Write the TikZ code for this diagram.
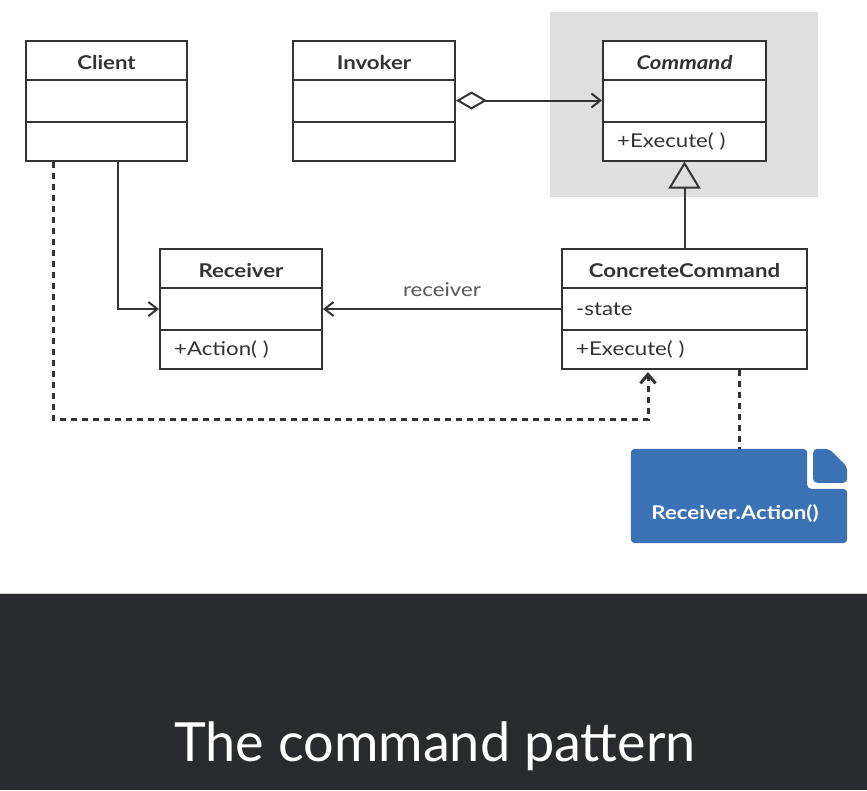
\documentclass[tikz,border=0pt]{standalone}
\usepackage{fontspec}
\setmainfont{Lato}[FakeStretch=1.17]
\newfontfamily\titlefont{Lato}
\usetikzlibrary{arrows.meta,positioning,backgrounds}

\definecolor{umlgray}{HTML}{333333}
\definecolor{labelgray}{HTML}{5A5A5A}
\definecolor{notebg}{HTML}{3B72B6}
\definecolor{barbg}{HTML}{2A2B2F}
\definecolor{shadebg}{HTML}{DFDFDF}

% class box: name, x, y, width, title, attribute, operation
\newcommand{\umlclass}[7]{%
  \node[classbox, minimum width=#4] (#1) at (#2,#3) {};
  \draw[classline] ([yshift=-40pt]#1.north west) -- ([yshift=-40pt]#1.north east);
  \draw[classline] ([yshift=40pt]#1.south west) -- ([yshift=40pt]#1.south east);
  \node[classname] (#1-name) at ([yshift=-23pt]#1.north) {#5};
  \node[member] (#1-attr) at ([xshift=15pt]#1.west) {#6};
  \node[member] (#1-op) at ([xshift=15pt,yshift=20pt]#1.south west) {#7};
}

\begin{document}
\begin{tikzpicture}[x=1pt,y=-1pt,
		classbox/.style={draw=umlgray, line width=2pt, fill=white, minimum height=120pt, inner sep=0pt},
		classline/.style={draw=umlgray, line width=2pt},
		classname/.style={text=umlgray, font=\fontsize{19}{22}\selectfont\bfseries, inner sep=0pt},
		member/.style={text=umlgray, font=\fontsize{19}{22}\selectfont, anchor=west, inner sep=0pt},
		link/.style={draw=umlgray, line width=2pt},
		dep/.style={draw=umlgray, line width=3pt, dash pattern=on 6pt off 5pt},
		barb/.style={-{Straight Barb[length=9pt,width=14pt,line width=2pt]}}
	]
	\useasboundingbox (0,0) rectangle (867,790);
	\fill[white] (0,0) rectangle (867,790);

	% grey highlight behind the abstract command
	\node[fill=shadebg, minimum width=268pt, minimum height=185pt, inner sep=0pt] (shade) at (684,104.5) {};

	\umlclass{client}{106.5}{100.5}{161pt}{Client}{}{}
	\umlclass{invoker}{374}{100.5}{162pt}{Invoker}{}{}
	\umlclass{command}{684.5}{100.5}{163pt}{\itshape Command}{}{+Execute( )}
	\umlclass{receiver}{241}{309}{162pt}{Receiver}{}{+Action( )}
	\umlclass{concrete}{684.5}{309}{245pt}{ConcreteCommand}{-state}{+Execute( )}

	% connectors
	\draw[link, {Diamond[open,length=31pt,width=18pt,line width=2pt]}-{Straight Barb[length=9pt,width=14pt,line width=2pt]}]
		(invoker.east) -- (command.west);
	\draw[link, -{Triangle[open,length=27pt,width=32pt,line width=2pt]}] (concrete.north) -- (command.south);
	\draw[link, barb] (concrete.west) -- (receiver.east)
		node[midway, above=8pt, text=labelgray, font=\fontsize{19}{22}\selectfont] (rcvlabel) {receiver};
	\draw[link, barb] ([xshift=11.5pt]client.south) |- (receiver.west);
	\coordinate (bend) at ([xshift=-36.5pt,yshift=-49pt]concrete.south);
	\draw[dep, -{Straight Barb[length=9pt,width=15pt,line width=3pt]}]
		([xshift=-53.5pt]client.south) |- (bend) -- ([xshift=-36.5pt,yshift=-2pt]concrete.south);

	% note
	\node[minimum width=216pt, minimum height=94pt, inner sep=0pt] (note) at (739,496) {};
	\fill[notebg, rounded corners=4pt] (note.north west) -- ([xshift=-40pt]note.north east)
		-- ([xshift=-40pt,yshift=-40pt]note.north east) -- ([yshift=-40pt]note.north east)
		-- (note.south east) -- (note.south west) -- cycle;
	\fill[notebg, rounded corners=4pt] ([xshift=-34pt]note.north east) -- ([xshift=-18pt]note.north east)
		-- ([yshift=-18pt]note.north east) -- ([yshift=-34pt]note.north east)
		-- ([xshift=-34pt,yshift=-34pt]note.north east) -- cycle;
	\node[text=white, font=\fontsize{19}{22}\selectfont\bfseries] (note-text) at ([xshift=-4pt,yshift=-18pt]note.center) {Receiver.Action()};
	\draw[dep] ([xshift=54.5pt]concrete.south) -- (note.north);

	% title bar
	\fill[barbg] (0,594) rectangle (867,790);
	\draw[gray!40, line width=1pt] (0,593.5) -- (867,593.5);
	\node[text=white, font=\titlefont\fontsize{54}{62}\selectfont] (title) at (435,746) {The command pattern};
\end{tikzpicture}
\end{document}
